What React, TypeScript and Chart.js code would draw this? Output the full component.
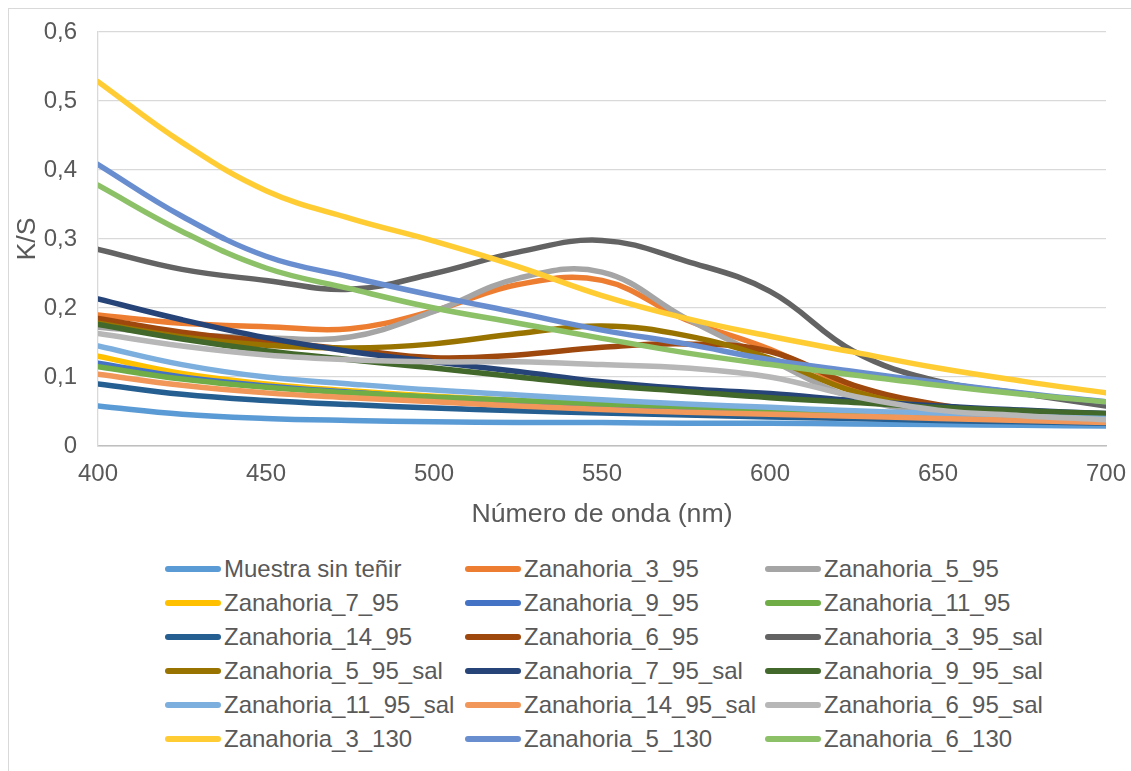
import React, { useEffect, useRef } from 'react';
import { Chart, registerables } from 'chart.js';

Chart.register(...registerables);

// Wavelengths (nm)
const wavelengths = [400, 425, 450, 475, 500, 525, 550, 575, 600, 625, 650, 675, 700];

const seriesNames = [
  'Muestra sin teñir',
  'Zanahoria_3_95',
  'Zanahoria_5_95',
  'Zanahoria_7_95',
  'Zanahoria_9_95',
  'Zanahoria_11_95',
  'Zanahoria_14_95',
  'Zanahoria_6_95',
  'Zanahoria_3_95_sal',
  'Zanahoria_5_95_sal',
  'Zanahoria_7_95_sal',
  'Zanahoria_9_95_sal',
  'Zanahoria_11_95_sal',
  'Zanahoria_14_95_sal',
  'Zanahoria_6_95_sal',
  'Zanahoria_3_130',
  'Zanahoria_5_130',
  'Zanahoria_6_130',
];

const seriesColors = [
  '#5B9BD5', '#ED7D31', '#A5A5A5',
  '#FFC000', '#4472C4', '#70AD47',
  '#255E91', '#9E480E', '#636363',
  '#997300', '#264478', '#43682B',
  '#7CAFDD', '#F1975A', '#B7B7B7',
  '#FFCD33', '#698ED0', '#8CC168',
];

// K/S values
const muestra = [0.058, 0.046, 0.040, 0.037, 0.035, 0.034, 0.034, 0.033, 0.033, 0.032, 0.031, 0.030, 0.029];
const z3_95 = [0.190, 0.178, 0.173, 0.170, 0.196, 0.234, 0.240, 0.183, 0.140, 0.085, 0.055, 0.043, 0.036];
const z5_95 = [0.172, 0.162, 0.157, 0.158, 0.195, 0.243, 0.252, 0.185, 0.125, 0.070, 0.050, 0.044, 0.040];
const z7_95 = [0.130, 0.105, 0.090, 0.080, 0.072, 0.066, 0.061, 0.056, 0.052, 0.048, 0.044, 0.041, 0.038];
const z9_95 = [0.120, 0.100, 0.087, 0.078, 0.070, 0.064, 0.059, 0.054, 0.050, 0.046, 0.042, 0.039, 0.036];
const z11_95 = [0.115, 0.097, 0.085, 0.077, 0.071, 0.066, 0.061, 0.057, 0.053, 0.049, 0.046, 0.043, 0.040];
const z14_95 = [0.090, 0.075, 0.066, 0.060, 0.055, 0.051, 0.048, 0.045, 0.042, 0.040, 0.037, 0.035, 0.033];
const z6_95 = [0.185, 0.165, 0.152, 0.140, 0.128, 0.132, 0.143, 0.148, 0.137, 0.088, 0.060, 0.047, 0.040];
const z3_95_sal = [0.285, 0.256, 0.240, 0.227, 0.250, 0.281, 0.298, 0.268, 0.224, 0.137, 0.094, 0.076, 0.058];
const z5_95_sal = [0.178, 0.158, 0.146, 0.142, 0.148, 0.163, 0.174, 0.160, 0.127, 0.079, 0.055, 0.047, 0.042];
const z7_95_sal = [0.213, 0.183, 0.157, 0.137, 0.122, 0.108, 0.093, 0.083, 0.076, 0.066, 0.058, 0.052, 0.047];
const z9_95_sal = [0.176, 0.155, 0.138, 0.125, 0.113, 0.100, 0.088, 0.079, 0.070, 0.063, 0.056, 0.051, 0.047];
const z11_95_sal = [0.145, 0.118, 0.100, 0.090, 0.081, 0.074, 0.067, 0.061, 0.056, 0.051, 0.047, 0.043, 0.040];
const z14_95_sal = [0.104, 0.088, 0.077, 0.070, 0.064, 0.058, 0.053, 0.049, 0.046, 0.043, 0.040, 0.037, 0.034];
const z6_95_sal = [0.163, 0.145, 0.132, 0.125, 0.122, 0.122, 0.118, 0.113, 0.100, 0.072, 0.052, 0.044, 0.038];
const z3_130 = [0.528, 0.440, 0.370, 0.330, 0.297, 0.260, 0.218, 0.185, 0.159, 0.136, 0.113, 0.094, 0.077];
const z5_130 = [0.408, 0.333, 0.275, 0.245, 0.218, 0.193, 0.168, 0.148, 0.125, 0.108, 0.092, 0.077, 0.064];
const z6_130 = [0.378, 0.311, 0.258, 0.228, 0.200, 0.178, 0.156, 0.135, 0.118, 0.103, 0.088, 0.075, 0.064];

const seriesValues = [
  muestra, z3_95, z5_95, z7_95, z9_95, z11_95, z14_95, z6_95,
  z3_95_sal, z5_95_sal, z7_95_sal, z9_95_sal, z11_95_sal, z14_95_sal, z6_95_sal,
  z3_130, z5_130, z6_130,
];

const xTitle = 'Número de onda (nm)';
const yTitle = 'K/S';

const FONT = '"Liberation Sans", Arial, sans-serif';
const TEXT = '#595959';

export default function App() {
  const canvasRef = useRef<HTMLCanvasElement>(null);

  useEffect(() => {
    const n = seriesValues.length;
    const chart = new Chart(canvasRef.current as HTMLCanvasElement, {
      type: 'line',
      data: {
        datasets: seriesValues.map((vals, i) => ({
          label: seriesNames[i],
          data: vals.map((v, j) => ({ x: wavelengths[j], y: v })),
          borderColor: seriesColors[i],
          backgroundColor: seriesColors[i],
          borderWidth: 5.5,
          pointRadius: 0,
          tension: 0.4,
          borderCapStyle: 'round',
          borderJoinStyle: 'round',
          fill: false,
          order: n - i,
        })),
      },
      options: {
        animation: false,
        responsive: false,
        events: [],
        layout: { padding: { left: 0, top: 23, right: 25, bottom: 0 } },
        plugins: { legend: { display: false }, tooltip: { enabled: false } },
        scales: {
          x: {
            type: 'linear',
            min: 400,
            max: 700,
            ticks: {
              stepSize: 50,
              color: TEXT,
              font: { family: FONT, size: 24 },
              padding: 14,
              maxRotation: 0,
              autoSkip: false,
            },
            grid: { display: false, drawTicks: false },
            border: { display: true, color: '#BFBFBF', width: 1.5 },
            title: {
              display: true,
              text: xTitle,
              color: TEXT,
              font: { family: FONT, size: 26.7 },
              padding: { top: 0, bottom: 18 },
            },
            afterFit: (s: any) => {
              s.height = 103;
              s.paddingLeft = 0;
              s.paddingRight = 0;
            },
          },
          y: {
            min: 0,
            max: 0.6,
            ticks: {
              stepSize: 0.1,
              color: TEXT,
              font: { family: FONT, size: 24 },
              padding: 21,
              callback: (v: any) => (Number(v) === 0 ? '0' : Number(v).toFixed(1).replace('.', ',')),
            },
            grid: { color: '#D9D9D9', lineWidth: 1.3, drawTicks: false },
            border: { display: true, color: '#D9D9D9', width: 1.3 },
            title: {
              display: true,
              text: yTitle,
              color: TEXT,
              font: { family: FONT, size: 26.7 },
              padding: { top: 3, bottom: 0 },
            },
            afterFit: (s: any) => {
              s.width = 89;
              s.paddingTop = 0;
              s.paddingBottom = 0;
            },
          },
        },
      } as any,
    });
    return () => chart.destroy();
  }, []);

  return (
    <div
      style={{
        position: 'fixed',
        left: 8,
        top: 8,
        width: 1123,
        height: 763,
        overflow: 'hidden',
        borderTop: '1px solid #D9D9D9',
        borderLeft: '1px solid #D9D9D9',
        boxSizing: 'border-box',
        background: '#fff',
        fontFamily: FONT,
      }}
    >
      <canvas
        ref={canvasRef}
        width={1122}
        height={540}
        style={{ position: 'absolute', left: 0, top: 0, width: 1122, height: 540 }}
      />
      {seriesNames.map((name, i) => {
        const col = i % 3;
        const row = Math.floor(i / 3);
        const left = 156 + 300 * col;
        const cy = 560 + 34 * row;
        return (
          <React.Fragment key={name}>
            <div
              style={{
                position: 'absolute',
                left,
                top: cy - 2.75,
                width: 56,
                height: 5.5,
                borderRadius: 3,
                background: seriesColors[i],
              }}
            />
            <div
              style={{
                position: 'absolute',
                left: left + 59,
                top: cy - 17,
                height: 34,
                lineHeight: '34px',
                fontSize: 24,
                color: TEXT,
                whiteSpace: 'nowrap',
              }}
            >
              {name}
            </div>
          </React.Fragment>
        );
      })}
    </div>
  );
}
